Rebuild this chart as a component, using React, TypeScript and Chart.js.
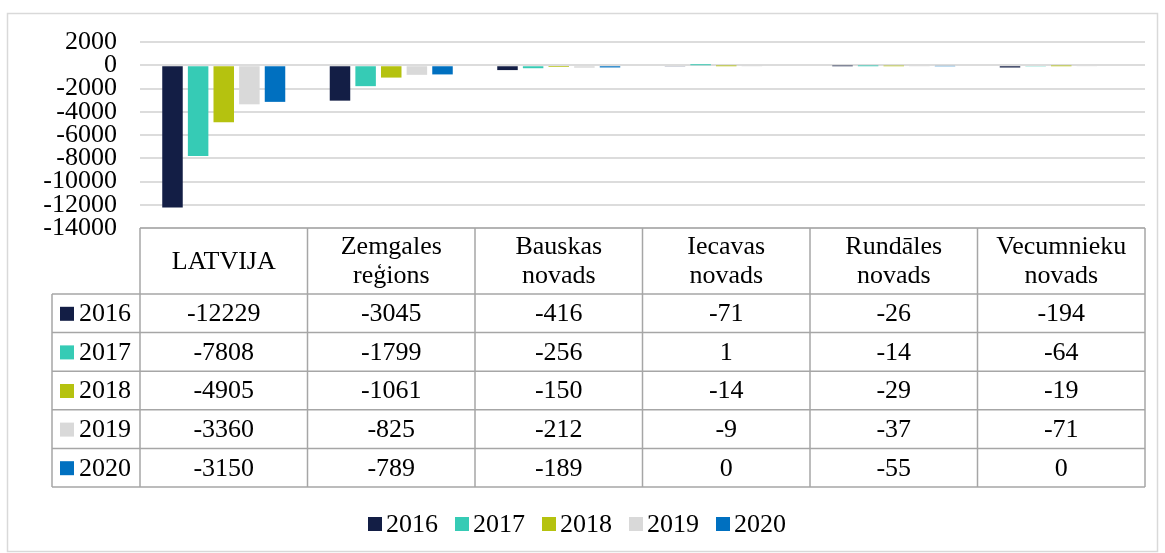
import React, { useEffect, useRef } from "react";
import { Chart, registerables } from "chart.js";

Chart.register(...registerables);

const categoryLines: string[][] = [
  ["LATVIJA"],
  ["Zemgales", "reģions"],
  ["Bauskas", "novads"],
  ["Iecavas", "novads"],
  ["Rundāles", "novads"],
  ["Vecumnieku", "novads"],
];
const categories = categoryLines.map((l) => l.join(" "));

const years = ["2016", "2017", "2018", "2019", "2020"];
const values2016 = [-12229, -3045, -416, -71, -26, -194];
const values2017 = [-7808, -1799, -256, 1, -14, -64];
const values2018 = [-4905, -1061, -150, -14, -29, -19];
const values2019 = [-3360, -825, -212, -9, -37, -71];
const values2020 = [-3150, -789, -189, 0, -55, 0];
const seriesValues = [values2016, values2017, values2018, values2019, values2020];
const colors = ["#131E45", "#36CBB5", "#B5C20F", "#D9D9D9", "#0070C0"];

const yMin = -14000;
const yMax = 2000;
const yStep = 2000;

const FONT = "'Liberation Serif', 'Times New Roman', serif";
const FONT_SIZE = 26;

const tablePlugin = {
  id: "dataTable",
  beforeDraw(chart: any) {
    const { ctx } = chart;
    ctx.save();
    ctx.strokeStyle = "#d9d9d9";
    ctx.lineWidth = 1.5;
    ctx.strokeRect(7.5, 13.5, 1150, 538);
    ctx.restore();
  },
  afterDraw(chart: any) {
    const { ctx, chartArea } = chart;
    const left = chartArea.left;
    const right = chartArea.right;
    const top = chartArea.bottom;
    const colW = (right - left) / categories.length;
    const headerH = 66;
    const rowH = 38.6;
    const legendColLeft = 52;
    const rowsTop = top + headerH;
    const rowsBottom = rowsTop + rowH * years.length;

    ctx.save();
    ctx.strokeStyle = "#a6a6a6";
    ctx.lineWidth = 1.5;
    ctx.beginPath();
    ctx.moveTo(left, top);
    ctx.lineTo(right, top);
    for (let r = 0; r <= years.length; r++) {
      const y = rowsTop + r * rowH;
      ctx.moveTo(legendColLeft, y);
      ctx.lineTo(right, y);
    }
    for (let c = 0; c <= categories.length; c++) {
      const x = left + c * colW;
      ctx.moveTo(x, top);
      ctx.lineTo(x, rowsBottom);
    }
    ctx.moveTo(legendColLeft, rowsTop);
    ctx.lineTo(legendColLeft, rowsBottom);
    ctx.stroke();

    ctx.fillStyle = "#000";
    ctx.font = `${FONT_SIZE}px ${FONT}`;
    ctx.textAlign = "center";
    ctx.textBaseline = "middle";
    categoryLines.forEach((lines, c) => {
      const cx = left + (c + 0.5) * colW;
      const cy = top + headerH / 2 + 1;
      const lh = 29;
      lines.forEach((line, i) => {
        const y = cy + (i - (lines.length - 1) / 2) * lh;
        ctx.fillText(line, cx, y);
      });
    });
    years.forEach((yr, r) => {
      const cy = rowsTop + (r + 0.5) * rowH + 1;
      seriesValues[r].forEach((v, c) => {
        const cx = left + (c + 0.5) * colW;
        ctx.fillText(String(v), cx, cy);
      });
      ctx.fillStyle = colors[r];
      ctx.fillRect(60, cy - 7.5, 14, 14);
      ctx.fillStyle = "#000";
      ctx.textAlign = "left";
      ctx.fillText(yr, 79, cy);
      ctx.textAlign = "center";
    });

    const legendY = 524;
    const itemStart = 368;
    const itemStep = 87;
    ctx.textAlign = "left";
    years.forEach((yr, i) => {
      const x = itemStart + i * itemStep;
      ctx.fillStyle = colors[i];
      ctx.fillRect(x, legendY - 7, 14, 14);
      ctx.fillStyle = "#000";
      ctx.fillText(yr, x + 18, legendY + 1);
    });
    ctx.restore();
  },
};

export default function App() {
  const canvasRef = useRef<HTMLCanvasElement | null>(null);

  useEffect(() => {
    if (!canvasRef.current) return;
    const chart = new Chart(canvasRef.current, {
      type: "bar",
      data: {
        labels: categories,
        datasets: years.map((yr, i) => ({
          label: yr,
          data: seriesValues[i],
          backgroundColor: colors[i],
          borderWidth: 0,
          categoryPercentage: 0.765,
          barPercentage: 0.8,
        })),
      },
      options: {
        animation: false,
        responsive: false,
        maintainAspectRatio: false,
        layout: { padding: { left: 0, right: 20, top: 42, bottom: 325 } },
        plugins: {
          legend: { display: false },
          tooltip: { enabled: false },
        },
        scales: {
          x: {
            display: false,
          },
          y: {
            min: yMin,
            max: yMax,
            border: { display: false },
            grid: { color: "#dcdcdc", lineWidth: 2, drawTicks: false },
            ticks: {
              stepSize: yStep,
              autoSkip: false,
              padding: 23,
              color: "#000",
              font: { family: FONT, size: FONT_SIZE, lineHeight: 1 },
              callback: (v: any) => String(v),
            },
            afterFit: (s: any) => {
              s.width = 140;
            },
          },
        },
      },
      plugins: [tablePlugin],
    });
    return () => chart.destroy();
  }, []);

  return (
    <div style={{ position: "absolute", left: 0, top: 0, width: 1165, height: 553, background: "#fff" }}>
      <canvas ref={canvasRef} width={1165} height={553} style={{ display: "block" }} />
    </div>
  );
}
